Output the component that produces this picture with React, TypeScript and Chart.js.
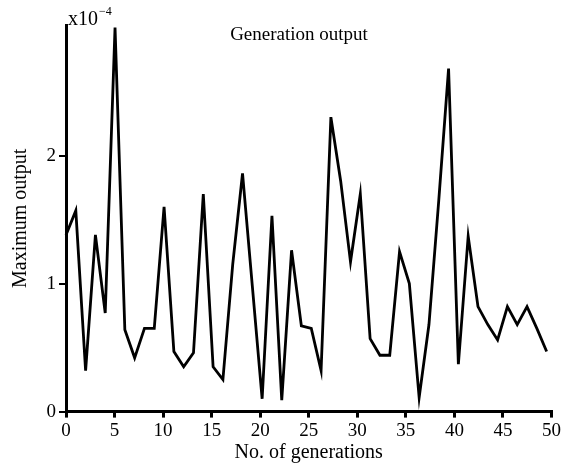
import React, { useEffect, useRef } from "react";
import { Chart, registerables } from "chart.js";

Chart.register(...registerables);

// Generation index positions (as plotted) and maximum output (in units of 1e-4)
const generations = [
  0, 1.01, 2.02, 3.03, 4.04, 5.05, 6.06, 7.07, 8.08, 9.09,
  10.1, 11.11, 12.12, 13.13, 14.14, 15.15, 16.16, 17.17, 18.18, 19.19,
  20.2, 21.21, 22.22, 23.23, 24.24, 25.26, 26.27, 27.28, 28.29, 29.3,
  30.31, 31.32, 32.33, 33.34, 34.35, 35.36, 36.37, 37.38, 38.39, 39.4,
  40.41, 41.42, 42.43, 43.44, 44.45, 45.46, 46.47, 47.48, 48.49, 49.5,
];
const maxOutput = [
  1.38, 1.57, 0.32, 1.38, 0.77, 3.0, 0.64, 0.42, 0.65, 0.65,
  1.6, 0.47, 0.35, 0.46, 1.7, 0.35, 0.25, 1.15, 1.86, 0.98,
  0.1, 1.53, 0.09, 1.26, 0.67, 0.65, 0.32, 2.3, 1.8, 1.17,
  1.7, 0.57, 0.44, 0.44, 1.25, 1.0, 0.11, 0.68, 1.65, 2.68,
  0.37, 1.37, 0.82, 0.68, 0.56, 0.82, 0.68, 0.82, 0.65, 0.47,
];
const xTickValues = [0, 5, 10, 15, 20, 25, 30, 35, 40, 45, 50];
const yTickValues = [0, 1, 2];
const exponentLabel = "x10";
const exponentSup = "\u22124";
const chartTitle = "Generation output";
const xTitle = "No. of generations";
const yTitle = "Maximum output";

const FONT = '"Liberation Serif", "Times New Roman", serif';

export default function App() {
  const ref = useRef<HTMLCanvasElement | null>(null);

  useEffect(() => {
    if (!ref.current) return;
    const overlay = {
      id: "overlay",
      afterDraw(chart: any) {
        const ctx = chart.ctx;
        const area = chart.chartArea;
        ctx.save();
        ctx.fillStyle = "#000";
        ctx.textBaseline = "alphabetic";
        ctx.font = `19px ${FONT}`;
        ctx.textAlign = "center";
        ctx.fillText(chartTitle, 299, 40);
        ctx.textAlign = "left";
        ctx.font = `20px ${FONT}`;
        ctx.fillText(exponentLabel, area.left + 2, 25);
        const w = ctx.measureText(exponentLabel).width;
        ctx.font = `12px ${FONT}`;
        ctx.fillText(exponentSup, area.left + 3 + w, 15);
        ctx.restore();
      },
    };

    const chart = new Chart(ref.current, {
      type: "line",
      data: {
        datasets: [
          {
            data: generations.map((g, i) => ({ x: g, y: maxOutput[i] })),
            borderColor: "#000",
            borderWidth: 2.8,
            pointRadius: 0,
            tension: 0,
            borderJoinStyle: "miter",
            clip: false as any,
          },
        ],
      },
      options: {
        animation: false,
        responsive: false,
        maintainAspectRatio: false,
        layout: { padding: { top: 25, right: 10, left: 0, bottom: 0 } },
        plugins: { legend: { display: false }, tooltip: { enabled: false }, title: { display: false } },
        scales: {
          x: {
            type: "linear",
            min: 0,
            max: 50,
            afterBuildTicks: (s: any) => {
              s.ticks = xTickValues.map((v) => ({ value: v }));
            },
            afterFit: (s: any) => {
              s.height = 54.4;
            },
            border: { display: true, color: "#000", width: 3 },
            grid: { drawOnChartArea: false, drawTicks: true, tickLength: 6, color: "#000", lineWidth: 3 },
            ticks: { color: "#000", font: { family: FONT, size: 19 }, padding: 2, maxRotation: 0, autoSkip: false },
            title: { display: true, text: xTitle, color: "#000", font: { family: FONT, size: 20 }, padding: { top: 0, bottom: 1 } },
          },
          y: {
            type: "linear",
            min: 0,
            max: 3.02,
            afterBuildTicks: (s: any) => {
              s.ticks = yTickValues.map((v) => ({ value: v }));
            },
            afterFit: (s: any) => {
              s.width = 66;
            },
            border: { display: true, color: "#000", width: 3 },
            grid: { drawOnChartArea: false, drawTicks: true, tickLength: 7, color: "#000", lineWidth: 2 },
            ticks: { color: "#000", font: { family: FONT, size: 19 }, padding: 3, autoSkip: false },
            title: { display: true, text: yTitle, color: "#000", font: { family: FONT, size: 20 }, padding: { top: 9, bottom: 0 } },
          },
        },
      },
      plugins: [overlay],
    } as any);
    return () => chart.destroy();
  }, []);

  return (
    <div style={{ position: "fixed", left: 0, top: 0, width: 563, height: 466, background: "#fff" }}>
      <canvas ref={ref} width={563} height={466} style={{ width: 563, height: 466 }} />
    </div>
  );
}
